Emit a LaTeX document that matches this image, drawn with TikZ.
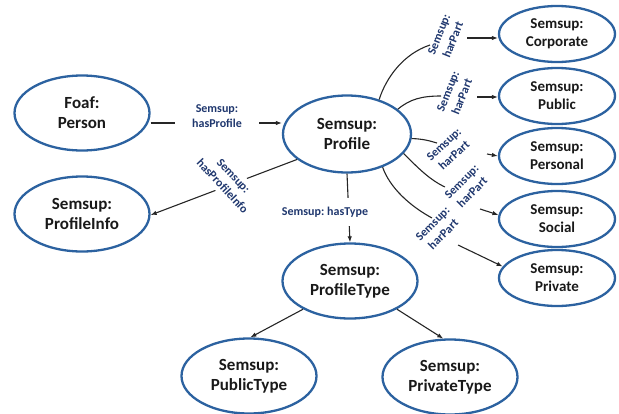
\documentclass[tikz,border=0pt]{standalone}
\usepackage{fontspec}
\setmainfont{Carlito}
\frenchspacing
\usetikzlibrary{arrows.meta,shapes.geometric}
\definecolor{ringblue}{RGB}{44,98,160}
\definecolor{tagblue}{RGB}{31,55,110}
\tikzset{
  concept/.style={ellipse, draw=ringblue, line width=2.3pt, inner sep=0pt,
    minimum width=135pt, minimum height=75pt, align=center,
    font=\bfseries\fontsize{17}{20}\selectfont, text=black!90},
  part/.style={concept, minimum width=116pt, minimum height=56pt,
    font=\bfseries\fontsize{15}{18}\selectfont},
  link/.style={draw=black!85, line width=1.1pt},
  arr/.style={link, -{Latex[length=6pt,width=4.5pt]}},
  tag/.style={font=\bfseries\fontsize{12}{15}\selectfont, text=tagblue,
    align=center, inner sep=1pt},
  gap/.style={tag, fill=white},
}
\begin{document}
\begin{tikzpicture}[x=1pt,y=-1pt]
\useasboundingbox (0,0) rectangle (619,413);

% main concepts
\node[concept] (person)      at (82,113)  {Foaf:\\Person};
\node[concept] (profileinfo) at (82,214)  {Semsup:\\ProfileInfo};
\node[concept, minimum width=128pt, minimum height=77pt] (profile) at (347,134) {Semsup:\\Profile};
\node[concept] (profiletype) at (350,281) {Semsup:\\ProfileType};
\node[concept] (publictype)  at (249,376) {Semsup:\\PublicType};
\node[concept] (privatetype) at (450,377) {Semsup:\\PrivateType};

% profile parts
\node[part] (corporate) at (557,34)  {Semsup:\\Corporate};
\node[part] (public)    at (557,96)  {Semsup:\\Public};
\node[part] (personal)  at (557,156) {Semsup:\\Personal};
\node[part] (social)    at (557,219) {Semsup:\\Social};
\node[part] (private)   at (557,278) {Semsup:\\Private};

% straight relations
\draw[arr] (person.east |- 0,123) -- (profile.west |- 0,123);
\node[gap, inner xsep=17pt] (tprofile) at (217,116) {Semsup:\\hasProfile};

\draw[arr] (profile.207) -- (profileinfo.east |- 0,215);
\node[gap, rotate=-47, inner sep=4pt] (tinfo) at (228,181) {Semsup:\\hasProfileInfo};

\draw[arr] (profile.south) -- (profiletype.north);
\node[gap, inner xsep=2pt, inner ysep=9pt] (ttype) at (325,212) {Semsup: hasType};

\draw[arr] (profiletype.211) -- (publictype.88);
\draw[arr] (profiletype.329) -- (privatetype.100);

% part-of relations
\coordinate (c1) at (430,45);
\coordinate (c2) at (441,96);
\coordinate (c3) at (437,143);
\coordinate (c4) at (445,187);
\coordinate (c5) at (432,218);
\coordinate (a1) at (467,38);
\coordinate (a2) at (477,97);
\coordinate (a3) at (487,154);
\coordinate (a4) at (480,209);
\coordinate (a5) at (458,245);

\draw[link] (profile.47)  .. controls (386,78)  and (403,54)  .. (c1);
\draw[link] (profile.26)  .. controls (410,99)  and (422,96)  .. (c2);
\draw[link] (profile.-4)  .. controls (424,139) and (430,141) .. (c3);
\draw[link] (profile.-19) .. controls (418,168) and (430,180) .. (c4);
\draw[link] (profile.-43) .. controls (390,188) and (410,206) .. (c5);

\node[tag, rotate=68] (t1) at (446,37)  {Semsup:\\harPart};
\node[tag, rotate=68] (t2) at (455,94)  {Semsup:\\harPart};
\node[tag, rotate=43] (t3) at (449,150) {Semsup:\\harPart};
\node[tag, rotate=45] (t4) at (467,187) {Semsup:\\harPart};
\node[tag, rotate=45] (t5) at (438,229) {Semsup:\\harPart};

\draw[arr] (a1) -- (corporate.west |- a1);
\draw[arr] (a2) -- (public.west |- a2);
\draw[arr] (a3) -- (personal.180);
\draw[arr] (a4) -- (social.176);
\draw[arr] (a5) -- (private.168);
\end{tikzpicture}
\end{document}
